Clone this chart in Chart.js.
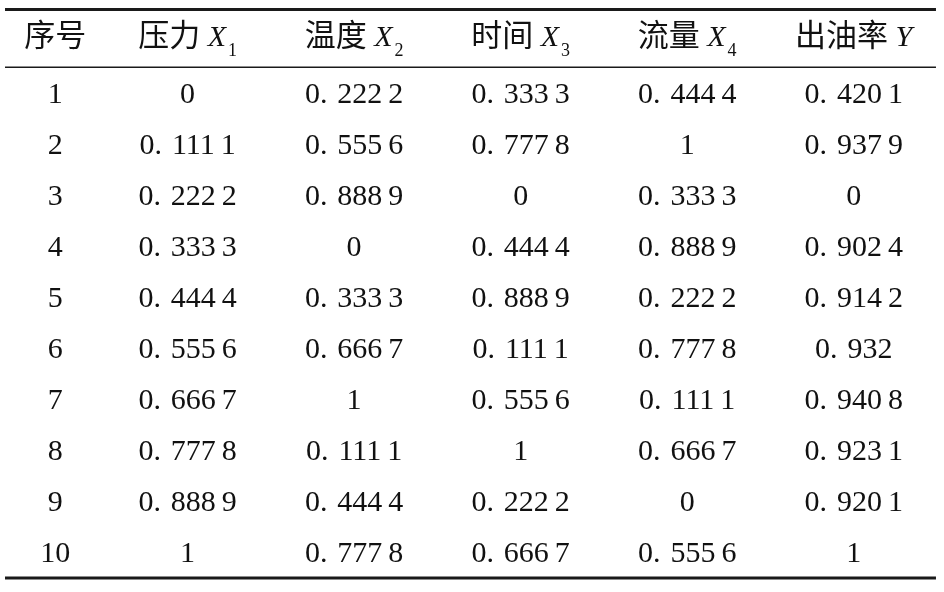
<!DOCTYPE html>
<html lang="zh">
<head>
    <meta charset="UTF-8">
    <title>出油率 正交试验归一化数据</title>
    <script src="https://cdn.jsdelivr.net/npm/chart.js"></script>
    <style>
        html, body { margin: 0; padding: 0; background: #fff; }
        .wrap { width: 944px; height: 592px; position: relative; }
    </style>
</head>
<body>
    <div class="wrap">
        <canvas id="table"></canvas>
    </div>
    <script>
        // 表头
        const headerNames = ['序号', '压力', '温度', '时间', '流量', '出油率'];
        const headerVars  = ['', 'X', 'X', 'X', 'X', 'Y'];
        const headerSubs  = ['', '1', '2', '3', '4', ''];

        // 数据列
        const rowNo      = [1, 2, 3, 4, 5, 6, 7, 8, 9, 10];
        const pressureX1 = [0, 0.1111, 0.2222, 0.3333, 0.4444, 0.5556, 0.6667, 0.7778, 0.8889, 1];
        const tempX2     = [0.2222, 0.5556, 0.8889, 0, 0.3333, 0.6667, 1, 0.1111, 0.4444, 0.7778];
        const timeX3     = [0.3333, 0.7778, 0, 0.4444, 0.8889, 0.1111, 0.5556, 1, 0.2222, 0.6667];
        const flowX4     = [0.4444, 1, 0.3333, 0.8889, 0.2222, 0.7778, 0.1111, 0.6667, 0, 0.5556];
        const oilRateY   = [0.4201, 0.9379, 0, 0.9024, 0.9142, 0.932, 0.9408, 0.9231, 0.9201, 1];

        const columns = [rowNo, pressureX1, tempX2, timeX3, flowX4, oilRateY];

        // 列在 x 轴上的位置（第一列较窄）
        const colPos = [0.205, 1, 2, 3, 4, 5];

        const serif = "'Liberation Serif', 'Times New Roman', serif";
        const cjk = "'Noto Sans CJK SC', sans-serif";
        const numSize = 30;

        // 0.2222 -> "0. 222 2"
        function fmt(v) {
            if (Number.isInteger(v)) return String(v);
            const parts = String(v).split('.');
            const groups = parts[1].match(/.{1,3}/g);
            return parts[0] + '. ' + groups.join(' ');
        }

        // 按空格分段绘制：小数点后空隙稍宽，分组空隙稍窄
        function drawSpaced(ctx, text, cx, y, size) {
            const segs = text.split(' ');
            const widths = segs.map(s => ctx.measureText(s).width);
            const gaps = segs.map((s, i) => i === 0 ? size * 0.33 : size * 0.2);
            let total = 0;
            segs.forEach((s, i) => { total += widths[i] + (i < segs.length - 1 ? gaps[i] : 0); });
            let x = cx - total / 2;
            segs.forEach((s, i) => {
                ctx.fillText(s, x, y);
                x += widths[i] + gaps[i];
            });
        }

        const tablePlugin = {
            id: 'tableText',
            afterDatasetsDraw(chart) {
                const ctx = chart.ctx;
                const xs = chart.scales.x, ys = chart.scales.y;
                ctx.save();

                // 三线表横线
                ctx.strokeStyle = '#1a1a1a';
                const x0 = xs.getPixelForValue(-0.0964), x1 = xs.getPixelForValue(5.494);
                [[-0.6285, 3], [0.5, 1.5], [10.5, 3]].forEach(([v, w]) => {
                    const y = ys.getPixelForValue(v);
                    ctx.lineWidth = w;
                    ctx.beginPath();
                    ctx.moveTo(x0, y);
                    ctx.lineTo(x1, y);
                    ctx.stroke();
                });

                // 表头
                ctx.fillStyle = '#111';
                ctx.textBaseline = 'alphabetic';
                ctx.textAlign = 'left';
                const hy = ys.getPixelForValue(0) + 4.4;
                headerNames.forEach((name, c) => {
                    const pieces = [];
                    pieces.push({ t: name, f: '31px ' + cjk, dy: 0 });
                    if (headerVars[c]) {
                        pieces.push({ t: ' ', f: '30px ' + serif, dy: 0 });
                        pieces.push({ t: headerVars[c], f: 'italic 30px ' + serif, dy: 0 });
                    }
                    if (headerSubs[c]) {
                        pieces.push({ t: headerSubs[c], f: '18px ' + serif, dy: 10, pad: 2 });
                    }
                    let total = 0;
                    pieces.forEach(p => {
                        ctx.font = p.f;
                        p.w = ctx.measureText(p.t).width + (p.pad || 0);
                        total += p.w;
                    });
                    let x = xs.getPixelForValue(colPos[c]) - total / 2;
                    pieces.forEach(p => {
                        ctx.font = p.f;
                        ctx.fillText(p.t, x + (p.pad || 0), hy + p.dy);
                        x += p.w;
                    });
                });

                // 单元格
                ctx.font = numSize + 'px ' + serif;
                ctx.textAlign = 'left';
                chart.data.datasets.forEach((ds, di) => {
                    const meta = chart.getDatasetMeta(di);
                    meta.data.forEach((pt, i) => {
                        drawSpaced(ctx, fmt(ds.data[i].v), pt.x, pt.y + numSize * 0.33, numSize);
                    });
                });
                ctx.restore();
            }
        };

        new Chart(document.getElementById('table'), {
            type: 'scatter',
            data: {
                datasets: columns.map((col, c) => ({
                    label: headerNames[c],
                    data: col.map((v, i) => ({ x: colPos[c], y: i + 1, v: v })),
                    pointRadius: 0,
                    pointHoverRadius: 0
                }))
            },
            options: {
                responsive: true,
                maintainAspectRatio: false,
                animation: false,
                layout: { padding: 0 },
                plugins: {
                    legend: { display: false },
                    tooltip: { enabled: false }
                },
                scales: {
                    x: { type: 'linear', display: false, min: -0.1265, max: 5.5422 },
                    y: { type: 'linear', display: false, reverse: true, min: -0.8145, max: 10.7729 }
                }
            },
            plugins: [tablePlugin]
        });
    </script>
</body>
</html>
